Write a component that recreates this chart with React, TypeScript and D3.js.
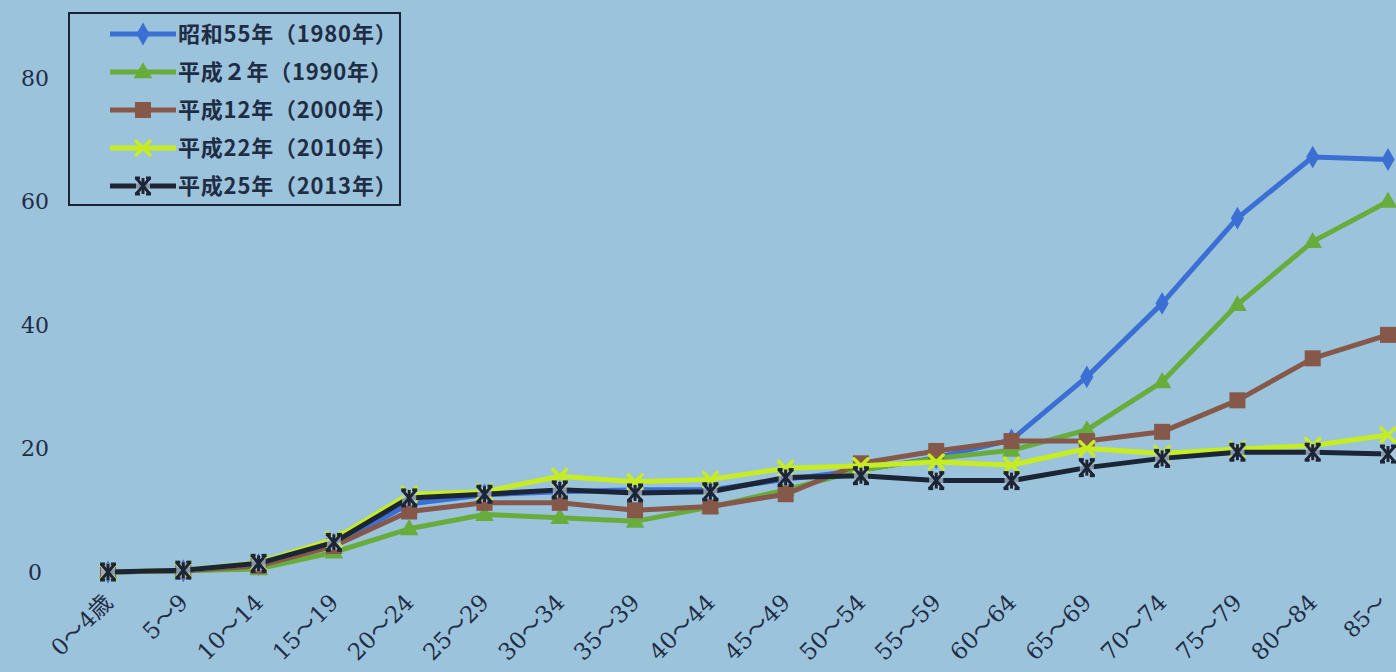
import React from "react";
import * as d3 from "d3";

const ageGroups = [
  "0〜4歳", "5〜9", "10〜14", "15〜19", "20〜24", "25〜29", "30〜34", "35〜39", "40〜44",
  "45〜49", "50〜54", "55〜59", "60〜64", "65〜69", "70〜74", "75〜79", "80〜84", "85〜",
];

const yTicks = [0, 20, 40, 60, 80];

const s1980 = [0, 0.2, 1.2, 4.5, 11, 12.5, 13, 13.3, 13.3, 15, 16.5, 18.5, 21.4, 31.6, 43.5, 57.3, 67.2, 66.8];
const s1990 = [0, 0.2, 0.5, 3.2, 7, 9.3, 8.8, 8.2, 10.5, 13.3, 16.5, 18.4, 19.7, 23, 30.8, 43.3, 53.5, 60];
const s2000 = [0, 0.2, 1, 4.2, 9.8, 11.2, 11.2, 10, 10.6, 12.6, 17.6, 19.6, 21.2, 21.2, 22.7, 27.8, 34.6, 38.4];
const s2010 = [0, 0.3, 1.5, 5.3, 12.6, 13, 15.5, 14.6, 15, 16.8, 17.2, 17.8, 17.3, 20, 19.2, 19.9, 20.5, 22.2];
const s2013 = [0, 0.3, 1.4, 4.8, 12, 12.6, 13.3, 12.8, 13, 15.3, 15.6, 14.8, 14.8, 16.9, 18.4, 19.4, 19.4, 19.1];

const seriesLabels = [
  "昭和55年（1980年）",
  "平成２年（1990年）",
  "平成12年（2000年）",
  "平成22年（2010年）",
  "平成25年（2013年）",
];

type Marker = "diamond" | "triangle" | "square" | "cross" | "asterisk";

const series: { label: string; values: number[]; color: string; marker: Marker }[] = [
  { label: seriesLabels[0], values: s1980, color: "#3b6fd4", marker: "diamond" },
  { label: seriesLabels[1], values: s1990, color: "#68ad3c", marker: "triangle" },
  { label: seriesLabels[2], values: s2000, color: "#85584a", marker: "square" },
  { label: seriesLabels[3], values: s2010, color: "#c6ec22", marker: "cross" },
  { label: seriesLabels[4], values: s2013, color: "#1c2536", marker: "asterisk" },
];

const W = 1396;
const H = 672;
const BG = "#9cc3dc";
const TEXT = "#1f2d44";

function MarkerShape({ kind, x, y, color }: { kind: Marker; x: number; y: number; color: string }) {
  if (kind === "diamond") {
    return <path d={d3.symbol(d3.symbolDiamond, 150)()!} transform={`translate(${x},${y})`} fill={color} />;
  }
  if (kind === "triangle") {
    return <path d={d3.symbol(d3.symbolTriangle, 150)()!} transform={`translate(${x},${y + 1})`} fill={color} />;
  }
  if (kind === "square") {
    return <rect x={x - 8} y={y - 8} width={16} height={16} fill={color} />;
  }
  if (kind === "cross") {
    return (
      <g stroke={color} strokeWidth={3.5} strokeLinecap="round">
        <line x1={x - 7} y1={y - 7} x2={x + 7} y2={y + 7} />
        <line x1={x - 7} y1={y + 7} x2={x + 7} y2={y - 7} />
      </g>
    );
  }
  return (
    <g>
      <rect x={x - 7} y={y - 8} width={14} height={16} fill="#b8c9d8" opacity={0.7} />
      <g stroke={color} strokeWidth={3} strokeLinecap="butt">
        <line x1={x - 7} y1={y - 8} x2={x + 7} y2={y + 8} />
        <line x1={x - 7} y1={y + 8} x2={x + 7} y2={y - 8} />
        <line x1={x} y1={y - 8} x2={x} y2={y + 8} />
        <line x1={x - 8} y1={y - 8} x2={x - 3} y2={y - 8} />
        <line x1={x + 3} y1={y - 8} x2={x + 8} y2={y - 8} />
        <line x1={x - 8} y1={y + 8} x2={x - 3} y2={y + 8} />
        <line x1={x + 3} y1={y + 8} x2={x + 8} y2={y + 8} />
      </g>
    </g>
  );
}

export default function App() {
  const x = d3.scalePoint<string>().domain(ageGroups).range([108, 1388]);
  const y = d3.scaleLinear().domain([0, 80]).range([572, 78]);

  const line = d3
    .line<number>()
    .x((_, i) => x(ageGroups[i])!)
    .y((v) => y(v));

  return (
    <svg
      width={W}
      height={H}
      style={{ position: "absolute", left: 0, top: 0, display: "block" }}
    >
      <rect x={0} y={0} width={W} height={H} fill={BG} />

      {/* y-axis labels */}
      {yTicks.map((t) => (
        <text
          key={t}
          x={35}
          y={y(t)}
          dy="0.36em"
          textAnchor="middle"
          fontFamily="'DejaVu Serif', serif"
          fontSize={22}
          fill={TEXT}
        >
          {t}
        </text>
      ))}

      {/* x-axis labels */}
      {ageGroups.map((g, i) => (
        <text
          key={g}
          transform={`translate(${Math.min(x(g)! + 6, 1388)},${604}) rotate(-45)`}
          textAnchor="end"
          fontFamily="'DejaVu Serif', 'Noto Sans CJK JP', serif"
          fontSize={i === ageGroups.length - 1 ? 22 : 23}
          fill={TEXT}
        >
          {g}
        </text>
      ))}

      {/* series */}
      {series.map((s) => (
        <g key={s.label}>
          <path d={line(s.values)!} fill="none" stroke={s.color} strokeWidth={5} strokeLinejoin="round" />
          {s.values.map((v, i) => (
            <MarkerShape key={i} kind={s.marker} x={x(ageGroups[i])!} y={y(v)} color={s.color} />
          ))}
        </g>
      ))}

      {/* legend */}
      <g>
        <rect x={69} y={13} width={331} height={192} fill={BG} stroke="#1a2233" strokeWidth={2} />
        {series.map((s, i) => {
          const ly = 34 + i * 38;
          return (
            <g key={s.label}>
              <line x1={110} x2={176} y1={ly} y2={ly} stroke={s.color} strokeWidth={5} />
              <MarkerShape kind={s.marker} x={143} y={ly} color={s.color} />
              <text
                x={178}
                y={ly}
                dy="0.36em"
                fontFamily="'Noto Sans CJK JP', sans-serif"
                fontWeight={700}
                fontSize={22}
                letterSpacing={0.8}
                fill={TEXT}
              >
                {s.label}
              </text>
            </g>
          );
        })}
      </g>
    </svg>
  );
}
